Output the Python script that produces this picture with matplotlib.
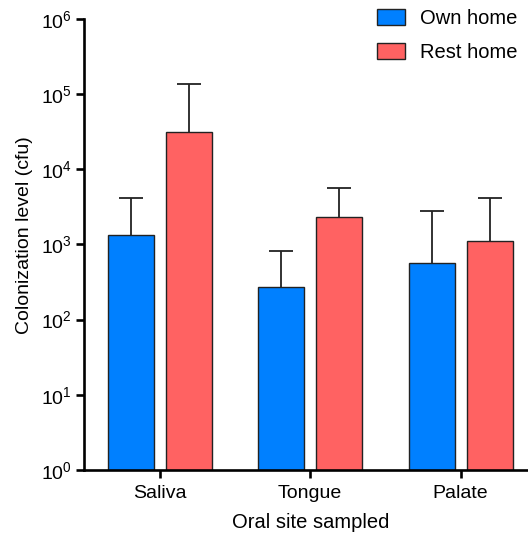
import numpy as np
import matplotlib
matplotlib.use("Agg")
import matplotlib.pyplot as plt
from matplotlib.ticker import LogFormatterMathtext, NullLocator

plt.rcParams["font.family"] = ["Liberation Sans", "DejaVu Sans"]

# data (cfu, log scale)
sites = ["Saliva", "Tongue", "Palate"]
own_home = [1350, 267, 573]
own_home_upper = [4130, 810, 2810]
rest_home = [30800, 2290, 1100]
rest_home_upper = [133700, 5610, 4130]
y_decades = [0, 1, 2, 3, 4, 5, 6]

BLUE = "#0080FF"
RED = "#FF6262"

fig = plt.figure(figsize=(5.28, 5.35), dpi=100)
ax = fig.add_axes([0.160, 0.1215, 0.855, 0.8435])
ax.set_yscale("log")

x = np.arange(len(sites))
w, off = 0.307, 0.193
own = np.array(own_home)
rest = np.array(rest_home)

ax.bar(x - off, own, w, color=BLUE, edgecolor="#222222", lw=1.0,
       label="Own home", zorder=2)
ax.bar(x + off, rest, w, color=RED, edgecolor="#222222", lw=1.0,
       label="Rest home", zorder=2)

# upper error bars only (Prism style)
for xs, vals, upper in [(x - off, own, own_home_upper),
                        (x + off, rest, rest_home_upper)]:
    err = [np.zeros_like(vals), np.array(upper) - vals]
    _, caps, _ = ax.errorbar(xs, vals, yerr=err, fmt="none", ecolor="#222222",
                             elinewidth=1.3, capsize=8.6, capthick=1.3,
                             zorder=1)
    caps[0].set_visible(False)

ax.set_ylim(1, 1e6)
ax.set_xlim(-0.5, 2.5)
ax.set_yticks(10.0 ** np.array(y_decades))
ax.yaxis.set_major_formatter(LogFormatterMathtext())
ax.yaxis.set_minor_locator(NullLocator())
ax.set_xticks(x)
ax.set_xticklabels(sites)

for s in ["top", "right"]:
    ax.spines[s].set_visible(False)
for s in ["left", "bottom"]:
    ax.spines[s].set_linewidth(1.9)
ax.tick_params(axis="both", width=1.9, length=6, labelsize=14)
ax.tick_params(axis="y", pad=3)
ax.tick_params(axis="x", pad=5)

ax.set_ylabel("Colonization level (cfu)", fontsize=14)
ax.yaxis.set_label_coords(-0.113, 0.52)
ax.set_xlabel("Oral site sampled", fontsize=14.5, labelpad=8)

fig.legend(loc="upper left", bbox_to_anchor=(377 / 528, 1 - 9 / 535),
           frameon=False, fontsize=14.5, borderpad=0, borderaxespad=0,
           handlelength=1.4, handleheight=0.8, handletextpad=0.75,
           labelspacing=0.75)

fig.savefig("out.png", dpi=100)
